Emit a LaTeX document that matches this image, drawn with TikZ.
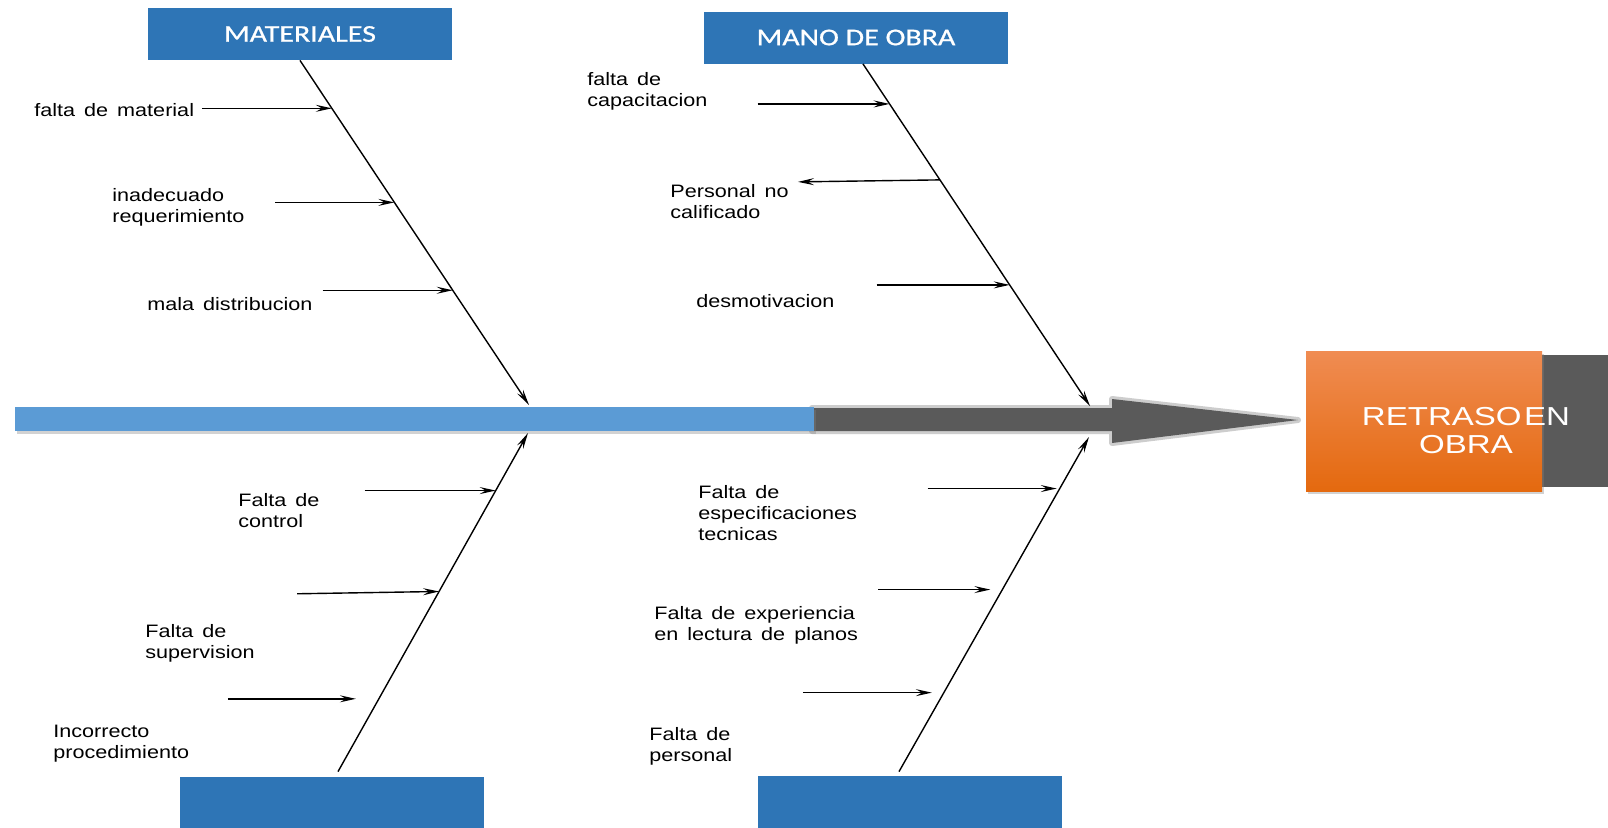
\documentclass[tikz,border=0pt]{standalone}
\usepackage{fontspec}
\setmainfont{Liberation Sans}[FakeStretch=1.2, WordSpace=1.5]
\newfontfamily\headfont{Carlito}[FakeStretch=1.25, FakeBold=0.8]
\newfontfamily\effectfont{Liberation Sans}[FakeStretch=1.27]
\usetikzlibrary{
    arrows.meta,
    calc,
    shadows,
}

\definecolor{headblue}{HTML}{2E75B6}
\definecolor{barblue}{HTML}{5B9BD5}
\definecolor{shaftgray}{HTML}{5A5A5A}
\definecolor{effecttop}{HTML}{F08C52}
\definecolor{effectbot}{HTML}{E4690F}

\begin{document}
\begin{tikzpicture}[
        x=0.5pt, y=-0.5pt,
        header/.style={
            rectangle, fill=headblue, inner sep=0pt,
            minimum width=152pt, minimum height=26pt,
            text=white, font=\headfont\fontsize{12}{14}\selectfont
        },
        cause/.style={
            anchor=west, align=left, inner sep=0pt, yshift=-1pt,
            font=\fontsize{9}{10.5}\selectfont
        },
        bone/.style={-{Stealth[length=8pt, width=3.5pt, inset=3pt]}, line width=0.7pt},
        twig/.style={-{Stealth[length=8pt, width=3.5pt, inset=3pt]}, line width=0.7pt},
        effectbox/.style={
            rectangle, inner sep=0pt, minimum width=118pt, minimum height=70pt,
            top color=effecttop, bottom color=effectbot,
            drop shadow={opacity=0.35, shadow xshift=1pt, shadow yshift=-1.5pt}
        },
        effect/.style={align=center, text=white, font=\effectfont\fontsize{13}{14}\selectfont},
    ]

    \fill[white] (0,0) rectangle (1608,827);
    \useasboundingbox (0,0) rectangle (1608,827);

    % ── Main arrow ──
    \fill[shaftgray] (1518,355) rectangle (1608,487);
    \draw[shaftgray, line width=3pt, opacity=0.3, line join=round]
        (812,408) -- (1112,408) -- (1112,399) -- (1298,420) -- (1112,443) -- (1112,431) -- (812,431) -- cycle;
    \fill[shaftgray]
        (790,408) -- (1112,408) -- (1112,399) -- (1298,420) -- (1112,443) -- (1112,431) -- (790,431) -- cycle;
    \fill[barblue, drop shadow={opacity=0.35, shadow xshift=1pt, shadow yshift=-1.5pt}]
        (15,407) rectangle (814,431);

    % ── Effect ──
    \node[effectbox] (efbox) at (1424,421) {};
    \node[effect] (efecto) at (1466,431) {RETRASO\hspace{0.1em}EN\\OBRA};

    % ── Headers ──
    \node[header] (mat) at (300,34) {MATERIALES};
    \node[header] (mob) at (856,37.5) {MANO DE OBRA};
    \node[header, minimum height=32pt] (metodo) at (332,809) {};
    \node[header, minimum height=32pt] (otros) at (910,808) {};

    % ── Bones ──
    \draw[bone] (mat.south) -- coordinate[pos=0.139] (m1) coordinate[pos=0.412] (m2)
        coordinate[pos=0.667] (m3) (529,405);
    \draw[bone] ($(mob.south)+(7,0)$) -- coordinate[pos=0.117] (o1) coordinate[pos=0.339] (o2)
        coordinate[pos=0.646] (o3) (1090,406);
    \draw[bone] ($(metodo.north)+(6,-5)$) -- coordinate[pos=0.830] (t1) coordinate[pos=0.532] (t2)
        coordinate[pos=0.215] (t3) (528,433);
    \draw[bone] ($(otros.north)+(-11,-4)$) -- coordinate[pos=0.846] (r1) coordinate[pos=0.544] (r2)
        coordinate[pos=0.236] (r3) (1089,437);

    % ── Causes: materiales ──
    \node[cause] (falmat) at (34,108) {falta de material};
    \node[cause] (inadec) at (112,205) {inadecuado\\requerimiento};
    \node[cause] (maladis) at (147,302) {mala distribucion};
    \draw[twig] ($(m1)+(-130,0)$) -- (m1);
    \draw[twig] ($(m2)+(-119,0)$) -- (m2);
    \draw[twig] ($(m3)+(-130,0)$) -- (m3);

    % ── Causes: mano de obra ──
    \node[cause] (falcap) at (587,89) {falta de\\capacitacion};
    \node[cause] (persno) at (670,200) {Personal no\\calificado};
    \node[cause] (desmot) at (696,299) {desmotivacion};
    \draw[twig] ($(o1)+(-132,0)$) -- (o1);
    \draw[twig] (o2) -- ($(o2)+(-142,2)$);
    \draw[twig] ($(o3)+(-133,0)$) -- (o3);

    % ── Causes: lower left ──
    \node[cause] (falcon) at (238,509) {Falta de\\control};
    \node[cause] (falsup) at (145,641) {Falta de\\supervision};
    \node[cause] (incpro) at (53,742) {Incorrecto\\procedimiento};
    \draw[twig] ($(t1)+(-131,0)$) -- (t1);
    \draw[twig] ($(t2)+(-142,2.3)$) -- (t2);
    \draw[twig] ($(t3)+(-151,0)$) -- ($(t3)+(-23,0)$);

    % ── Causes: lower right ──
    \node[cause] (falesp) at (698,511) {Falta de\\especificaciones\\tecnicas};
    \node[cause] (falexp) at (654,623) {Falta de experiencia\\en lectura de planos};
    \node[cause] (falper) at (649,744) {Falta de\\personal};
    \draw[twig] ($(r1)+(-132,0)$) -- ($(r1)+(-3,0)$);
    \draw[twig] ($(r2)+(-124,0)$) -- ($(r2)+(-12,0)$);
    \draw[twig] ($(r3)+(-141,0)$) -- ($(r3)+(-12,0)$);

\end{tikzpicture}
\end{document}
